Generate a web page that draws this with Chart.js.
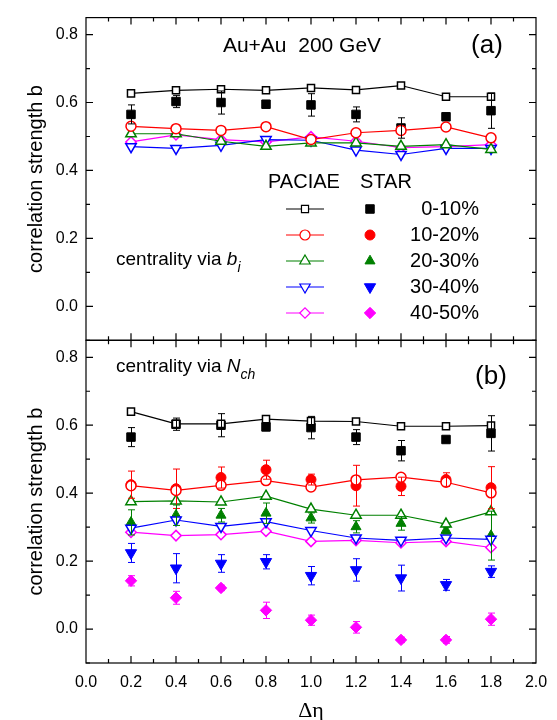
<!DOCTYPE html>
<html>
<head>
<meta charset="utf-8">
<title>correlation strength b vs Δη</title>
<script src="https://cdn.jsdelivr.net/npm/chart.js@4.4.1/dist/chart.umd.min.js"></script>
<style>
  body { margin: 0; background: #fff; }
  canvas { display: block; }
</style>
</head>
<body>
<canvas id="grafico" width="557" height="720"></canvas>
<script>
// Δη bins and axis ticks
const deta = [0.2, 0.4, 0.6, 0.8, 1.0, 1.2, 1.4, 1.6, 1.8];
const xTicks = [0.0, 0.2, 0.4, 0.6, 0.8, 1.0, 1.2, 1.4, 1.6, 1.8, 2.0];
const yTicks = [0.0, 0.2, 0.4, 0.6, 0.8];
const centralities = ['0-10%', '10-20%', '20-30%', '30-40%', '40-50%'];

// PACIAE, centrality via b_i (panel a)
const paciaeB0 = [0.627, 0.636, 0.639, 0.636, 0.643, 0.637, 0.650, 0.617, 0.617];
const paciaeB1 = [0.530, 0.523, 0.518, 0.529, 0.491, 0.511, 0.518, 0.528, 0.496];
const paciaeB2 = [0.508, 0.508, 0.486, 0.471, 0.481, 0.481, 0.471, 0.476, 0.462];
const paciaeB3 = [0.470, 0.465, 0.474, 0.491, 0.489, 0.460, 0.447, 0.465, 0.465];
const paciaeB4 = [0.484, 0.505, 0.491, 0.484, 0.499, 0.486, 0.467, 0.470, 0.476];

// PACIAE, centrality via N_ch (panel b)
const paciaeN0 = [0.640, 0.604, 0.604, 0.618, 0.612, 0.611, 0.597, 0.597, 0.599];
const paciaeN1 = [0.422, 0.408, 0.423, 0.437, 0.418, 0.439, 0.447, 0.432, 0.401];
const paciaeN2 = [0.375, 0.377, 0.374, 0.391, 0.353, 0.335, 0.335, 0.309, 0.345];
const paciaeN3 = [0.297, 0.321, 0.302, 0.316, 0.290, 0.268, 0.261, 0.268, 0.264];
const paciaeN4 = [0.285, 0.275, 0.278, 0.288, 0.258, 0.261, 0.254, 0.258, 0.240];

// STAR data with errors
const star0 = [0.565, 0.603, 0.600, 0.595, 0.593, 0.565, 0.525, 0.558, 0.576];
const star0Err = [0.028, 0.018, 0.034, 0.010, 0.033, 0.022, 0.030, 0.008, 0.052];
const star1 = [0.425, 0.413, 0.446, 0.469, 0.440, 0.422, 0.420, 0.440, 0.416];
const star1Err = [0.040, 0.058, 0.031, 0.028, 0.016, 0.060, 0.027, 0.020, 0.062];
const star2 = [0.314, 0.335, 0.335, 0.341, 0.327, 0.301, 0.311, 0.290, 0.275];
const star2Err = [0.037, 0.030, 0.020, 0.030, 0.015, 0.018, 0.020, 0.010, 0.072];
const star3 = [0.224, 0.179, 0.193, 0.198, 0.157, 0.174, 0.150, 0.130, 0.169];
const star3Err = [0.028, 0.043, 0.026, 0.021, 0.027, 0.033, 0.038, 0.016, 0.017];
const star4 = [0.142, 0.092, 0.121, 0.055, 0.026, 0.005, -0.032, -0.032, 0.029];
const star4Err = [0.015, 0.019, 0.008, 0.024, 0.015, 0.017, 0.008, 0.010, 0.018];

// one style per centrality class
const colors = ['#000000', '#ff0000', '#008000', '#0000ff', '#ff00ff'];
const shapes = ['rect', 'circle', 'triangle', 'triangle', 'rectRot'];
const rotations = [0, 0, 0, 180, 0];
const openRadius = [5, 5, 6, 6, 5.2];
const fullRadius = [6, 5, 5.8, 6.5, 5.7];

const FONT = '"Liberation Sans", Arial, sans-serif';
const toPoints = vals => deta.map((x, i) => ({ x: x, y: vals[i] }));

function paciaeSet(vals, k, axis) {
    return {
        data: toPoints(vals),
        yAxisID: axis,
        borderColor: colors[k],
        borderWidth: 1.2,
        pointStyle: shapes[k],
        pointRotation: rotations[k],
        pointRadius: openRadius[k],
        pointHoverRadius: openRadius[k],
        pointBorderWidth: 1.5,
        pointBorderColor: colors[k],
        pointBackgroundColor: '#ffffff',
        tension: 0
    };
}

function starSet(vals, errs, k, axis) {
    return {
        data: toPoints(vals),
        errors: errs,
        yAxisID: axis,
        showLine: false,
        borderColor: colors[k],
        pointStyle: shapes[k],
        pointRotation: rotations[k],
        pointRadius: fullRadius[k],
        pointHoverRadius: fullRadius[k],
        pointBorderWidth: 1,
        pointBorderColor: colors[k],
        pointBackgroundColor: colors[k]
    };
}

// first datasets are drawn on top, so PACIAE goes first
const datasets = [
    paciaeSet(paciaeB0, 0, 'yTop'), paciaeSet(paciaeB1, 1, 'yTop'), paciaeSet(paciaeB2, 2, 'yTop'),
    paciaeSet(paciaeB3, 3, 'yTop'), paciaeSet(paciaeB4, 4, 'yTop'),
    paciaeSet(paciaeN0, 0, 'yBot'), paciaeSet(paciaeN1, 1, 'yBot'), paciaeSet(paciaeN2, 2, 'yBot'),
    paciaeSet(paciaeN3, 3, 'yBot'), paciaeSet(paciaeN4, 4, 'yBot'),
    starSet(star0, star0Err, 0, 'yTop'),
    starSet(star0, star0Err, 0, 'yBot'), starSet(star1, star1Err, 1, 'yBot'), starSet(star2, star2Err, 2, 'yBot'),
    starSet(star3, star3Err, 3, 'yBot'), starSet(star4, star4Err, 4, 'yBot')
];

// vertical error bars with small caps
const errorBars = {
    id: 'errorBars',
    afterDatasetsDraw(chart) {
        const ctx = chart.ctx;
        const xs = chart.scales.x;
        ctx.save();
        ctx.lineWidth = 1;
        chart.data.datasets.forEach(ds => {
            if (!ds.errors) return;
            const ys = chart.scales[ds.yAxisID];
            ctx.strokeStyle = ds.borderColor;
            ds.data.forEach((p, i) => {
                const px = Math.round(xs.getPixelForValue(p.x)) + 0.5;
                const top = ys.getPixelForValue(p.y + ds.errors[i]);
                const bot = ys.getPixelForValue(p.y - ds.errors[i]);
                ctx.beginPath();
                ctx.moveTo(px, top); ctx.lineTo(px, bot);
                ctx.moveTo(px - 3.5, top); ctx.lineTo(px + 3.5, top);
                ctx.moveTo(px - 3.5, bot); ctx.lineTo(px + 3.5, bot);
                ctx.stroke();
            });
        });
        ctx.restore();
    }
};

// panel frames with inward ticks on all four sides
const frames = {
    id: 'frames',
    afterDraw(chart) {
        const ctx = chart.ctx;
        const xs = chart.scales.x;
        const area = chart.chartArea;
        ctx.save();
        ctx.strokeStyle = '#000';
        ctx.lineWidth = 1.2;
        ['yTop', 'yBot'].forEach(id => {
            const ys = chart.scales[id];
            ctx.strokeRect(area.left, ys.top, area.right - area.left, ys.bottom - ys.top);
            ctx.beginPath();
            for (let k = -1; k <= 8; k++) {
                const py = ys.getPixelForValue(k / 10);
                const len = k % 2 === 0 ? 7 : 4;
                ctx.moveTo(area.left, py); ctx.lineTo(area.left + len, py);
                ctx.moveTo(area.right, py); ctx.lineTo(area.right - len, py);
            }
            for (let k = 1; k < 20; k++) {
                const px = xs.getPixelForValue(k / 10);
                const len = k % 2 === 0 ? 7 : 4;
                ctx.moveTo(px, ys.top); ctx.lineTo(px, ys.top + len);
                ctx.moveTo(px, ys.bottom); ctx.lineTo(px, ys.bottom - len);
            }
            ctx.stroke();
        });
        ctx.restore();
    }
};

// text pieces with italic letters and subscripts
function drawRich(ctx, parts, x, y) {
    let cx = x;
    parts.forEach(([text, font, dy]) => {
        ctx.font = font;
        ctx.fillText(text, cx, y + dy);
        cx += ctx.measureText(text).width;
    });
}

function marker(ctx, k, radius, x, y) {
    const opts = { pointStyle: shapes[k], rotation: rotations[k], radius: radius, borderWidth: 1.5 };
    if (Chart.helpers && Chart.helpers.drawPoint) {
        Chart.helpers.drawPoint(ctx, opts, x, y);
    } else {
        ctx.beginPath();
        ctx.arc(x, y, radius, 0, Math.PI * 2);
        ctx.fill();
        ctx.stroke();
    }
}

// labels, panel tags and the legend of panel (a)
const notes = {
    id: 'notes',
    afterDraw(chart) {
        const ctx = chart.ctx;
        ctx.save();
        ctx.fillStyle = '#000';
        ctx.textBaseline = 'alphabetic';
        ctx.textAlign = 'center';
        ctx.font = '21px ' + FONT;
        ctx.fillText('Au+Au  200 GeV', 302, 52);
        ctx.font = '26px ' + FONT;
        ctx.fillText('(a)', 487, 53);
        ctx.fillText('(b)', 491, 384);

        ctx.textAlign = 'left';
        drawRich(ctx, [['centrality via ', '19px ' + FONT, 0], ['b', 'italic 19px ' + FONT, 0],
            ['i', 'italic 14px ' + FONT, 7]], 116, 265);
        drawRich(ctx, [['centrality via ', '19px ' + FONT, 0], ['N', 'italic 19px ' + FONT, 0],
            ['ch', 'italic 14px ' + FONT, 7]], 116, 372);

        ctx.font = '20px ' + FONT;
        ctx.fillText('PACIAE', 268, 188);
        ctx.fillText('STAR', 360, 188);

        centralities.forEach((label, k) => {
            const y = 209 + k * 26;
            ctx.strokeStyle = colors[k];
            ctx.lineWidth = 1.2;
            ctx.beginPath();
            ctx.moveTo(286, y); ctx.lineTo(324, y);
            ctx.stroke();
            ctx.fillStyle = '#ffffff';
            marker(ctx, k, openRadius[k], 305, y);
            ctx.fillStyle = colors[k];
            ctx.lineWidth = 1;
            marker(ctx, k, fullRadius[k], 370, y);
            ctx.fillStyle = '#000';
            ctx.textAlign = 'right';
            ctx.textBaseline = 'middle';
            ctx.font = '20px ' + FONT;
            ctx.fillText(label, 479, y);
            ctx.textAlign = 'left';
            ctx.textBaseline = 'alphabetic';
        });
        ctx.restore();
    }
};

function yAxis(weight) {
    return {
        type: 'linear',
        position: 'left',
        stack: 'panels',
        stackWeight: 1,
        weight: weight,
        min: -0.1,
        max: 0.85,
        grid: { display: false, drawTicks: false },
        border: { display: false },
        afterBuildTicks: s => { s.ticks = yTicks.map(v => ({ value: v })); },
        afterFit: s => { s.width = 86; },
        ticks: {
            padding: 8,
            color: '#000',
            font: { family: FONT, size: 16 },
            callback: v => v.toFixed(1)
        },
        title: {
            display: true,
            text: 'correlation strength b',
            color: '#000',
            font: { family: FONT, size: 20 },
            padding: { top: 24, bottom: 0 }
        }
    };
}

const ctx = document.getElementById('grafico').getContext('2d');
new Chart(ctx, {
    type: 'line',
    data: { datasets: datasets },
    plugins: [errorBars, frames, notes],
    options: {
        responsive: false,
        animation: false,
        events: [],
        layout: { padding: { top: 9, right: 21, left: 0, bottom: 0 } },
        plugins: { legend: { display: false }, tooltip: { enabled: false } },
        scales: {
            x: {
                type: 'linear',
                position: 'bottom',
                min: 0,
                max: 2,
                grid: { display: false, drawTicks: false },
                border: { display: false },
                afterBuildTicks: s => { s.ticks = xTicks.map(v => ({ value: v })); },
                afterFit: s => { s.height = 57; },
                ticks: {
                    padding: 9.5,
                    color: '#000',
                    maxRotation: 0,
                    font: { family: FONT, size: 16 },
                    callback: v => v.toFixed(1)
                },
                title: {
                    display: true,
                    text: 'Δη',
                    color: '#000',
                    font: { family: '"Liberation Serif", "DejaVu Serif", serif', size: 22, lineHeight: 0.8 },
                    padding: { top: 0, bottom: 0 }
                }
            },
            yTop: yAxis(2),
            yBot: yAxis(1)
        }
    }
});
</script>
</body>
</html>
